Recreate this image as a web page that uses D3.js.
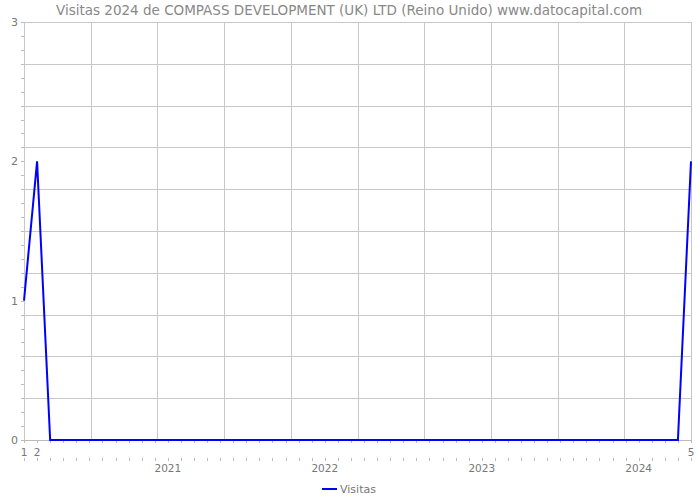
<!DOCTYPE html>
<html><head><meta charset="utf-8">
<script src="https://cdn.jsdelivr.net/npm/d3@7/dist/d3.min.js"></script>
<style>body{margin:0;background:#fff}svg{display:block}text{font-family:"DejaVu Sans",sans-serif;fill:#777}</style>
</head><body><svg id="c" width="700" height="500"></svg>
<script>
const title = "Visitas 2024 de COMPASS DEVELOPMENT (UK) LTD (Reino Unido) www.datocapital.com";
const seriesName = "Visitas";
// monthly values, Feb 2020 .. May 2024
const values = [1,2,0,0,0,0,0,0,0,0,0,0, 0,0,0,0,0,0,0,0,0,0,0,0, 0,0,0,0,0,0,0,0,0,0,0,0, 0,0,0,0,0,0,0,0,0,0,0,0, 0,0,0,2];
const xLabels = [{i:0,t:"1",row:0},{i:1,t:"2",row:0},{i:11,t:"2021",row:1},{i:23,t:"2022",row:1},{i:35,t:"2023",row:1},{i:47,t:"2024",row:1},{i:51,t:"5",row:0}];
const yTicks = [0,1,2,3];

const L=24,R=691,T=22,B=440;
const svg=d3.select("#c");
const x=d3.scaleLinear().domain([0,values.length-1]).range([L,R]);
const y=d3.scaleLinear().domain([0,3]).range([B,T]);
const gx=d3.scaleLinear().domain([0,10]).range([L,R]);

const grid=svg.append("g").attr("stroke","#c8c8c8").attr("stroke-width",1);
d3.range(0,11).forEach(k=>{
  grid.append("line").attr("x1",Math.round(gx(k))+0.5).attr("x2",Math.round(gx(k))+0.5).attr("y1",T).attr("y2",B);
  const yy=Math.round(y(k*0.3))+0.5;
  grid.append("line").attr("x1",L).attr("x2",R).attr("y1",yy).attr("y2",yy);
});
// left minor ticks
const ax=svg.append("g").attr("stroke","#bbb");
d3.range(0,31).forEach(k=>{
  const yy=Math.round(y(k*0.1))+0.5;
  ax.append("line").attr("x1",L-3).attr("x2",L).attr("y1",yy).attr("y2",yy);
});
// bottom ticks
values.forEach((v,i)=>{
  const xx=Math.round(x(i))+0.5;
  ax.append("line").attr("x1",xx).attr("x2",xx).attr("y1",B).attr("y2",B+3);
  ax.append("line").attr("x1",xx).attr("x2",xx).attr("y1",B+18).attr("y2",B+21);
});
ax.append("line").attr("x1",L).attr("x2",R).attr("y1",B+0.5).attr("y2",B+0.5);

svg.append("g").selectAll("text").data(yTicks).join("text")
 .attr("x",L-6).attr("y",d=>y(d)+4).attr("text-anchor","end").attr("font-size",11).text(d=>d);
svg.append("g").selectAll("text").data(xLabels).join("text")
 .attr("x",d=>x(d.i)).attr("y",d=>d.row?B+32:B+16).attr("text-anchor","middle").attr("font-size",10.5).text(d=>d.t);

svg.append("path").datum(values).attr("fill","none").attr("stroke","#0000ff").attr("stroke-width",2)
 .attr("d",d3.line().x((d,i)=>x(i)).y(d=>y(d)));

svg.append("text").attr("x",349).attr("y",15).attr("text-anchor","middle").attr("font-size",13.5).style("fill","#888").text(title);
svg.append("line").attr("x1",322).attr("x2",337).attr("y1",489).attr("y2",489).attr("stroke","#0000ff").attr("stroke-width",2);
svg.append("text").attr("x",340).attr("y",493).attr("font-size",11).text(seriesName);
</script></body></html>
